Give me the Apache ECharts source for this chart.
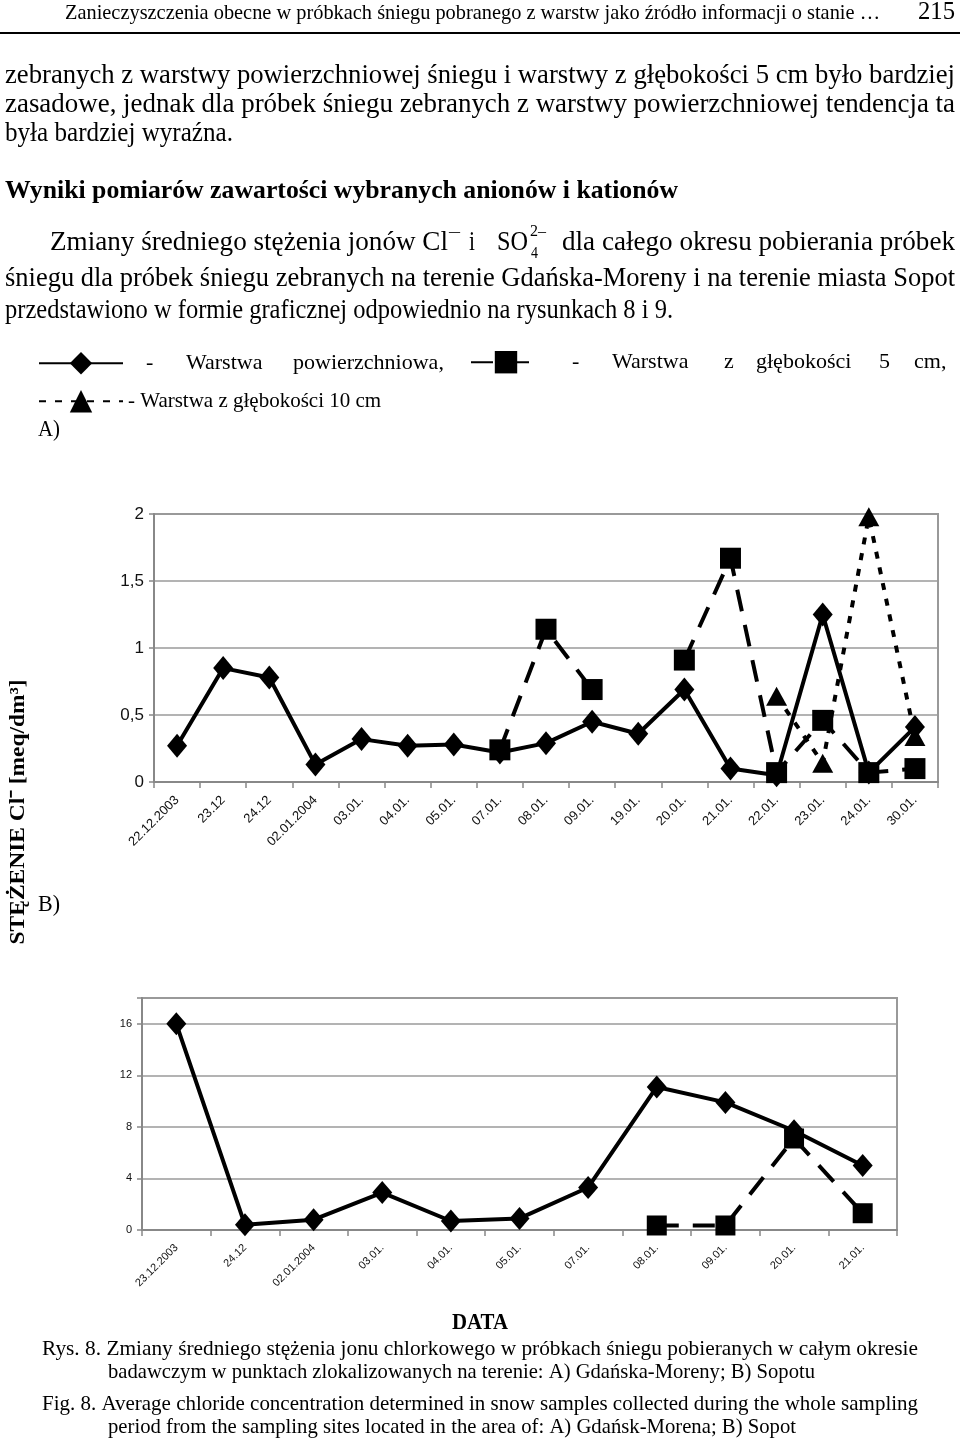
<!DOCTYPE html>
<html><head><meta charset="utf-8">
<script src="https://cdn.jsdelivr.net/npm/echarts@6/dist/echarts.min.js"></script>
<style>html,body{margin:0;padding:0;background:#fff}#c{width:960px;height:1440px}</style>
</head><body><div id="c"></div>
<script>
// ---------- data ----------
const catsA = ['22.12.2003','23.12','24.12','02.01.2004','03.01.','04.01.','05.01.','07.01.','08.01.','09.01.','19.01.','20.01.','21.01.','22.01.','23.01.','24.01.','30.01.'];
const surfaceA = [0.27,0.85,0.78,0.13,0.32,0.27,0.28,0.22,0.29,0.45,0.36,0.69,0.10,0.05,1.25,0.07,0.41];
const depth5A  = [null,null,null,null,null,null,null,0.24,1.14,0.69,null,0.91,1.67,0.07,0.46,0.07,0.10];
const depth10A = [null,null,null,null,null,null,null,null,null,null,null,null,null,0.64,0.14,1.98,0.34];

const catsB = ['23.12.2003','24.12','02.01.2004','03.01.','04.01.','05.01.','07.01.','08.01.','09.01.','20.01.','21.01.'];
const surfaceB = [16.0,0.4,0.8,2.9,0.7,0.9,3.3,11.1,9.9,7.7,5.0];
const depth5B  = [null,null,null,null,null,null,null,0.35,0.35,7.1,1.3];

const seriesNames = ['Warstwa powierzchniowa','Warstwa z głębokości 5 cm','Warstwa z głębokości 10 cm'];

// ---------- text helpers ----------
const SERIF = '"Liberation Serif", "Times New Roman", serif';
const SANS = '"Liberation Sans", Arial, sans-serif';
const mctx = document.createElement('canvas').getContext('2d');
function measure(text, font){ mctx.font = font; return mctx.measureText(text).width; }
function txt(text, x0, x1, y, font, extra){
  const w = measure(text, font);
  const s = (x1 != null) ? (x1 - x0) / w : 0.9;
  return Object.assign({ type:'text', x:x0, y:y, scaleX:s, silent:true, z:10,
    style:{ text:text, font:font, fill:'#000', align:'left', verticalAlign:'middle' } }, extra||{});
}
function ctxt(text, x0, x1, y, font){
  return txt(text, x0, x1, y, font);
}
const body = '27px ' + SERIF;
const cap = '22px ' + SERIF;

const graphics = [
  txt('Zanieczyszczenia obecne w próbkach śniegu pobranego z warstw jako źródło informacji o stanie …', 65, 880, 13, '22px ' + SERIF),
  txt('215', 918, 955, 12, '25px ' + SERIF),
  { type:'line', silent:true, shape:{x1:0,y1:33,x2:960,y2:33}, style:{stroke:'#000', lineWidth:2} },
  txt('zebranych z warstwy powierzchniowej śniegu i warstwy z głębokości 5 cm było bardziej', 5, 955, 76, body),
  txt('zasadowe, jednak dla próbek śniegu zebranych z warstwy powierzchniowej tendencja ta', 5, 955, 105, body),
  txt('była bardziej wyraźna.', 5, 233, 134, body),
  txt('Wyniki pomiarów zawartości wybranych anionów i kationów', 5, 678, 191, 'bold 26px ' + SERIF),
  txt('Zmiany średniego stężenia jonów Cl', 50, 448, 243, body),
  txt('–', 449, 460, 232, '16px ' + SERIF),
  txt('i', 469, 475, 243, body),
  txt('SO', 497, 528, 243, body),
  txt('2–', 530, 546, 232, '16px ' + SERIF),
  txt('4', 531, 538, 254, '16px ' + SERIF),
  txt('dla całego okresu pobierania próbek', 562, 955, 243, body),
  txt('śniegu dla próbek śniegu zebranych na terenie Gdańska-Moreny i na terenie miasta Sopot', 5, 955, 279, body),
  txt('przedstawiono w formie graficznej odpowiednio na rysunkach 8 i 9.', 5, 673, 311, body),
  txt('A)', 38, 60, 430, '24px ' + SERIF),
  txt('B)', 38, 60, 905, '24px ' + SERIF),
  ctxt('DATA', 452, 508, 1323, 'bold 23px ' + SERIF),
  txt('Rys. 8. Zmiany średniego stężenia jonu chlorkowego w próbkach śniegu pobieranych w całym okresie', 42, 918, 1349, cap),
  txt('badawczym w punktach zlokalizowanych na terenie: A) Gdańska-Moreny; B) Sopotu', 108, 815, 1372, cap),
  txt('Fig. 8. Average chloride concentration determined in snow samples collected during the whole sampling', 42, 918, 1404, cap),
  txt('period from the sampling sites located in the area of: A) Gdańsk-Morena; B) Sopot', 108, 796, 1427, cap)
];
// rotated y-axis caption
(function(){
  const t = 'STĘŻENIE Cl⁻ [meq/dm³]';
  const f = 'bold 22px ' + SERIF;
  const w = measure(t, f);
  graphics.push({ type:'text', x:18, y:812, rotation:Math.PI/2, scaleX:265/w, silent:true, z:10,
    style:{ text:t, font:f, fill:'#000', align:'center', verticalAlign:'middle' } });
})();

// ---------- chart ----------
const gridColor = '#9a9a9a';
function xAxisCfg(idx, data, fs){
  return { type:'category', gridIndex:idx, data:data, boundaryGap:true,
    axisLine:{ show:true, lineStyle:{ color:'#888', width:2 } },
    axisTick:{ show:true, interval:0, length:6, lineStyle:{ color:'#888', width:1.5 } },
    axisLabel:{ interval:0, rotate:45, fontSize:fs, fontFamily:SANS, color:'#111', margin:16 },
    splitLine:{ show:false } };
}
function yAxisCfg(idx, max, interval, fs, fmt){
  return { type:'value', gridIndex:idx, min:0, max:max, interval:interval,
    axisLine:{ show:true, lineStyle:{ color:'#888', width:2 } },
    axisTick:{ show:true, length:5, lineStyle:{ color:'#888', width:1.5 } },
    axisLabel:{ fontSize:fs, fontFamily:SANS, color:'#111', margin:10, formatter:fmt },
    splitLine:{ show:true, lineStyle:{ color:gridColor, width:1.5 } } };
}
const lineBase = { type:'line', animation:false, showAllSymbol:true, emphasis:{ disabled:true }, silent:true };
function mk(name, xi, data, symbol, size, ltype, z){
  return Object.assign({}, lineBase, { name:name, xAxisIndex:xi, yAxisIndex:xi, data:data, symbol:symbol, symbolSize:size, z:z,
    lineStyle:{ color:'#000', width:4, type:ltype }, itemStyle:{ color:'#000' } });
}
const richBase = { fontFamily:SERIF, fontSize:22, color:'#000' };
function R(o){ return Object.assign({}, richBase, o); }

const option = {
  backgroundColor:'#fff',
  animation:false,
  graphic:{ elements: graphics },
  legend:[
    { data:[seriesNames[0]], left:38, top:352, itemWidth:84, itemHeight:28, selectedMode:false, padding:0,
      formatter:function(){ return '{g| }{a|-}{b|Warstwa}{c|powierzchniowa,}'; },
      textStyle:{ fontFamily:SERIF, fontSize:22, color:'#000',
        rich:{ g:R({width:18}), a:R({width:40}), b:R({width:107}), c:R({}) } } },
    { data:[seriesNames[1]], left:470, top:351, itemWidth:70, itemHeight:28, selectedMode:false, padding:0,
      formatter:function(){ return '{g| }{a|-}{b|Warstwa}{c|z}{d|głębokości}{e|5}{f|cm,}'; },
      textStyle:{ fontFamily:SERIF, fontSize:22, color:'#000',
        rich:{ g:R({width:26}), a:R({width:40}), b:R({width:112}), c:R({width:32}), d:R({width:123}), e:R({width:35}), f:R({}) } } },
    { data:[seriesNames[2]], left:38, top:390, itemWidth:84, itemHeight:28, selectedMode:false, padding:0,
      formatter:function(){ return '- Warstwa z głębokości 10 cm'; },
      textStyle:{ fontFamily:SERIF, fontSize:21, color:'#000' } }
  ],
  grid:[
    { left:154, top:514, width:784, height:268, show:true, borderColor:'#999', borderWidth:2, backgroundColor:'transparent', containLabel:false },
    { left:142, top:998, width:755, height:232, show:true, borderColor:'#999', borderWidth:2, backgroundColor:'transparent', containLabel:false }
  ],
  xAxis:[ xAxisCfg(0, catsA, 13), xAxisCfg(1, catsB, 11) ],
  yAxis:[
    yAxisCfg(0, 2, 0.5, 17, function(v){ return String(v).replace('.', ','); }),
    yAxisCfg(1, 18, 4, 11, function(v){ return v === 18 ? '' : String(v); })
  ],
  series:[
    mk(seriesNames[0], 0, surfaceA, 'diamond', [20,24], 'solid', 3),
    mk(seriesNames[1], 0, depth5A, 'rect', 21, [22,14], 4),
    mk(seriesNames[2], 0, depth10A, 'triangle', [21,19], [7,9], 5),
    mk(seriesNames[0], 1, surfaceB, 'diamond', [20,23], 'solid', 3),
    mk(seriesNames[1], 1, depth5B, 'rect', 20, [22,14], 4)
  ]
};
const chart = echarts.init(document.getElementById('c'), null, { renderer:'canvas' });
chart.setOption(option);
</script>
</body></html>
